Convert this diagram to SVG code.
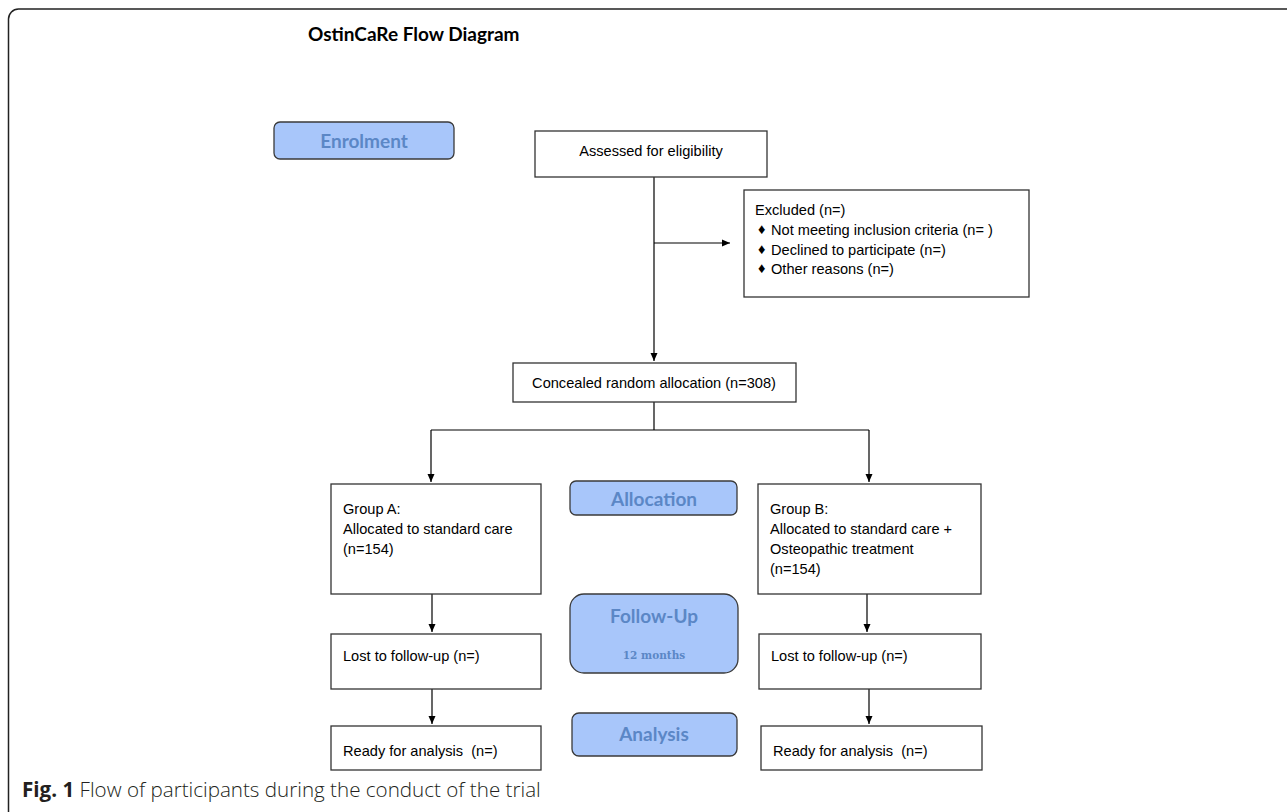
<svg xmlns="http://www.w3.org/2000/svg" width="1287" height="812" viewBox="0 0 1287 812">
<style>
.box{fill:#fff;stroke:#333;stroke-width:1.3}
.stage{fill:#a8c6fa;stroke:#3a3a3a;stroke-width:1.3}
.t{font-family:"Liberation Sans",Arial,sans-serif;font-size:14.6px;fill:#000;white-space:pre}
.st{font-family:Lato,"Open Sans",sans-serif;font-weight:bold;font-size:19px;fill:#5b87c6;text-anchor:middle}
.ln{fill:none;stroke:#000;stroke-width:1.2}
</style>
<defs>
<marker id="ah" markerWidth="10" markerHeight="10" refX="8" refY="4" orient="auto" markerUnits="userSpaceOnUse">
<path d="M0,0.5 L8,4 L0,7.5 Z" fill="#000"/>
</marker>
</defs>
<rect width="1287" height="812" fill="#fff"/>
<rect id="frame" x="8.5" y="9" width="1310" height="818" rx="10" fill="none" stroke="#222" stroke-width="1.5"/>
<text id="title" x="308" y="41" font-family="Lato,'Open Sans',sans-serif" font-weight="bold" font-size="19" fill="#000">OstinCaRe Flow Diagram</text>

<g id="connectors">
<line class="ln" x1="654" y1="177" x2="654" y2="361" marker-end="url(#ah)"/>
<line class="ln" x1="654" y1="243" x2="730" y2="243" marker-end="url(#ah)"/>
<polyline class="ln" points="654,402 654,430"/>
<polyline class="ln" points="431,430 869,430"/>
<line class="ln" x1="431" y1="430" x2="431" y2="482" marker-end="url(#ah)"/>
<line class="ln" x1="869" y1="430" x2="869" y2="482" marker-end="url(#ah)"/>
<line class="ln" x1="432" y1="594" x2="432" y2="632" marker-end="url(#ah)"/>
<line class="ln" x1="867" y1="594" x2="867" y2="632" marker-end="url(#ah)"/>
<line class="ln" x1="432" y1="689" x2="432" y2="724" marker-end="url(#ah)"/>
<line class="ln" x1="869" y1="689" x2="869" y2="724" marker-end="url(#ah)"/>
</g>

<g id="enrolment"><rect class="stage" x="274" y="122" width="180" height="37" rx="6"/><text class="st" x="364" y="148">Enrolment</text></g>
<g id="assessed"><rect class="box" x="535" y="131" width="232" height="46"/><text class="t" x="651" y="156" text-anchor="middle">Assessed for eligibility</text></g>
<g id="excluded"><rect class="box" x="744" y="190" width="285" height="107"/>
<text class="t" x="755" y="215">Excluded (n=)</text>
<text class="t" x="758" y="234" font-size="9">♦</text><text class="t" x="771" y="235">Not meeting inclusion criteria (n= )</text>
<text class="t" x="758" y="254" font-size="9">♦</text><text class="t" x="771" y="255">Declined to participate (n=)</text>
<text class="t" x="758" y="273" font-size="9">♦</text><text class="t" x="771" y="274">Other reasons (n=)</text>
</g>
<g id="concealed"><rect class="box" x="513" y="363" width="283" height="39"/><text class="t" x="654" y="388" text-anchor="middle">Concealed random allocation (n=308)</text></g>
<g id="groupA"><rect class="box" x="331" y="484" width="210" height="110"/>
<text class="t" x="343" y="514">Group A:</text><text class="t" x="343" y="534">Allocated to standard care</text><text class="t" x="343" y="554">(n=154)</text></g>
<g id="allocation"><rect class="stage" x="570" y="481" width="167" height="34" rx="6"/><text class="st" x="654" y="506">Allocation</text></g>
<g id="groupB"><rect class="box" x="758" y="484" width="223" height="110"/>
<text class="t" x="770" y="514">Group B:</text><text class="t" x="770" y="534">Allocated to standard care +</text><text class="t" x="770" y="554">Osteopathic treatment</text><text class="t" x="770" y="574">(n=154)</text></g>
<g id="followup"><rect class="stage" x="570" y="594" width="168" height="79" rx="14"/><text class="st" x="654" y="623">Follow-Up</text>
<text x="654" y="659" text-anchor="middle" font-family="'DejaVu Serif','Liberation Serif',serif" font-weight="bold" font-size="10.5" fill="#5b87c6">12 months</text></g>
<g id="lostA"><rect class="box" x="331" y="634" width="210" height="55"/><text class="t" x="343" y="661">Lost to follow-up (n=)</text></g>
<g id="lostB"><rect class="box" x="759" y="634" width="222" height="55"/><text class="t" x="771" y="661">Lost to follow-up (n=)</text></g>
<g id="analysis"><rect class="stage" x="572" y="713" width="165" height="43" rx="7"/><text class="st" x="654" y="741">Analysis</text></g>
<g id="readyA"><rect class="box" x="331" y="726" width="210" height="44"/><text class="t" x="343" y="756">Ready for analysis  (n=)</text></g>
<g id="readyB"><rect class="box" x="761" y="726" width="221" height="44"/><text class="t" x="773" y="756">Ready for analysis  (n=)</text></g>
<text id="caption" x="22" y="797" font-family="'Open Sans',sans-serif" font-size="20.6" fill="#231f20" xml:space="preserve"><tspan font-weight="bold">Fig. 1</tspan><tspan font-weight="300"> Flow of participants during the conduct of the trial</tspan></text>
</svg>
